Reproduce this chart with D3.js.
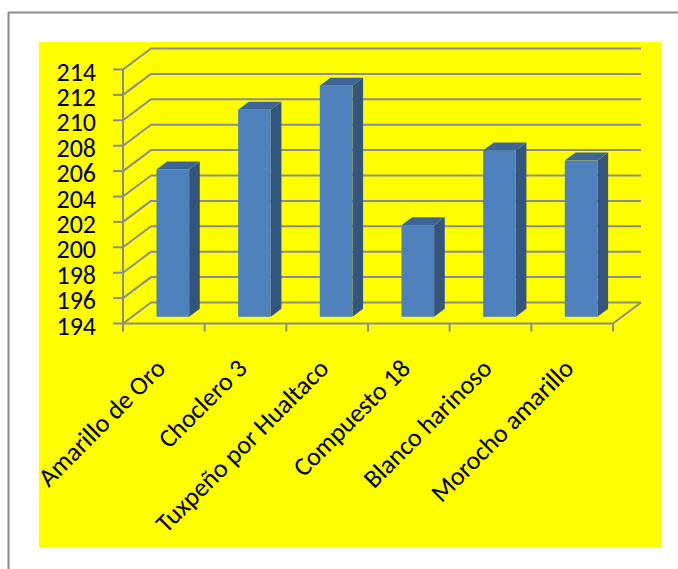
<!DOCTYPE html>
<html>
<head>
<meta charset="utf-8">
<script src="https://cdn.jsdelivr.net/npm/d3@7"></script>
<style>
  html, body { margin: 0; padding: 0; background: #ffffff; }
  svg { display: block; }
  text { font-family: Carlito, Lato, "Open Sans", sans-serif; fill: #000; }
</style>
</head>
<body>
<svg id="chart" width="678" height="569"></svg>
<script>
// Maize varieties and their measured values
const categories = ["Amarillo de Oro", "Choclero 3", "Tuxpeño por Hualtaco", "Compuesto 18", "Blanco harinoso", "Morocho amarillo"];
const values = [205.6, 210.3, 212.2, 201.2, 207.1, 206.3];
const yTicks = [194, 196, 198, 200, 202, 204, 206, 208, 210, 212, 214];

const svg = d3.select("#chart");

// Outer frame (top and left edges) and the yellow chart area
svg.append("line").attr("x1", 8).attr("x2", 678).attr("y1", 12.5).attr("y2", 12.5)
  .attr("stroke", "#8c8c8c").attr("stroke-width", 2);
svg.append("line").attr("x1", 8.5).attr("x2", 8.5).attr("y1", 12).attr("y2", 569)
  .attr("stroke", "#8c8c8c").attr("stroke-width", 2);
svg.append("rect").attr("x", 39).attr("y", 42).attr("width", 622).attr("height", 505)
  .attr("fill", "#ffff00");

// 3D projection: front plane plus a depth offset to the back wall
const x0 = 123, x1 = 613;
const depthX = 28, depthY = -21;
const y = d3.scaleLinear().domain([194, 214]).range([323.5, 69.5]);
const x = d3.scaleBand().domain(categories).range([x0, x1]).paddingInner(0.6).paddingOuter(0.3);
const step = x.step();

const grid = svg.append("g").attr("fill", "none").attr("stroke", "#8c8c8c").attr("stroke-width", 2)
  .attr("stroke-linejoin", "round");

// Side-wall diagonals and back-wall gridlines
grid.selectAll("path.grid").data(yTicks).join("path").attr("class", "grid")
  .attr("d", v => {
    const yy = y(v);
    return `M${x0},${yy}L${x0 + depthX},${yy + depthY}L${x1 + depthX},${yy + depthY}`;
  });

// Floor front edge and right edge
const yb = y(194);
grid.append("path").attr("d", `M${x0},${yb}L${x1},${yb}L${x1 + depthX},${yb + depthY}`);

// Value axis line and ticks
grid.append("line").attr("x1", x0).attr("x2", x0).attr("y1", y(214)).attr("y2", yb);
grid.selectAll("line.ytick").data(yTicks).join("line").attr("class", "ytick")
  .attr("x1", x0 - 10).attr("x2", x0).attr("y1", d => y(d)).attr("y2", d => y(d));

// Category boundary ticks
const bounds = d3.range(categories.length + 1).map(i => x0 + i * step);
grid.selectAll("line.xtick").data(bounds).join("line").attr("class", "xtick")
  .attr("x1", d => d).attr("x2", d => d).attr("y1", yb).attr("y2", yb + 8);

// Bars as prisms set partly into the depth
const d0 = 0.32, d1 = 0.70;
const bw = x.bandwidth();
const bars = svg.append("g");
categories.forEach((c, i) => {
  const v = values[i];
  const fx = x(c) + d0 * depthX;
  const fyTop = y(v) + d0 * depthY;
  const fyBot = y(194) + d0 * depthY;
  const ddx = (d1 - d0) * depthX, ddy = (d1 - d0) * depthY;
  // side face
  bars.append("path")
    .attr("d", `M${fx + bw},${fyTop}L${fx + bw + ddx},${fyTop + ddy}L${fx + bw + ddx},${fyBot + ddy}L${fx + bw},${fyBot}Z`)
    .attr("fill", "#34557e");
  // top face
  bars.append("path")
    .attr("d", `M${fx},${fyTop}L${fx + ddx},${fyTop + ddy}L${fx + bw + ddx},${fyTop + ddy}L${fx + bw},${fyTop}Z`)
    .attr("fill", "#3d6598");
  // front face
  bars.append("rect").attr("x", fx).attr("y", fyTop).attr("width", bw).attr("height", fyBot - fyTop)
    .attr("fill", "#4f81bd");
});

// Value axis labels
svg.append("g").selectAll("text").data(yTicks).join("text")
  .attr("x", 96).attr("y", d => y(d) + 2)
  .attr("text-anchor", "end").attr("dominant-baseline", "central")
  .style("font-size", "26px")
  .text(d => d);

// Category labels, rotated
svg.append("g").selectAll("text").data(categories).join("text")
  .attr("text-anchor", "end")
  .attr("transform", c => `translate(${x(c) + bw / 2 + 3},${370}) rotate(-45)`)
  .style("font-size", "26px")
  .text(c => c);
</script>
</body>
</html>
